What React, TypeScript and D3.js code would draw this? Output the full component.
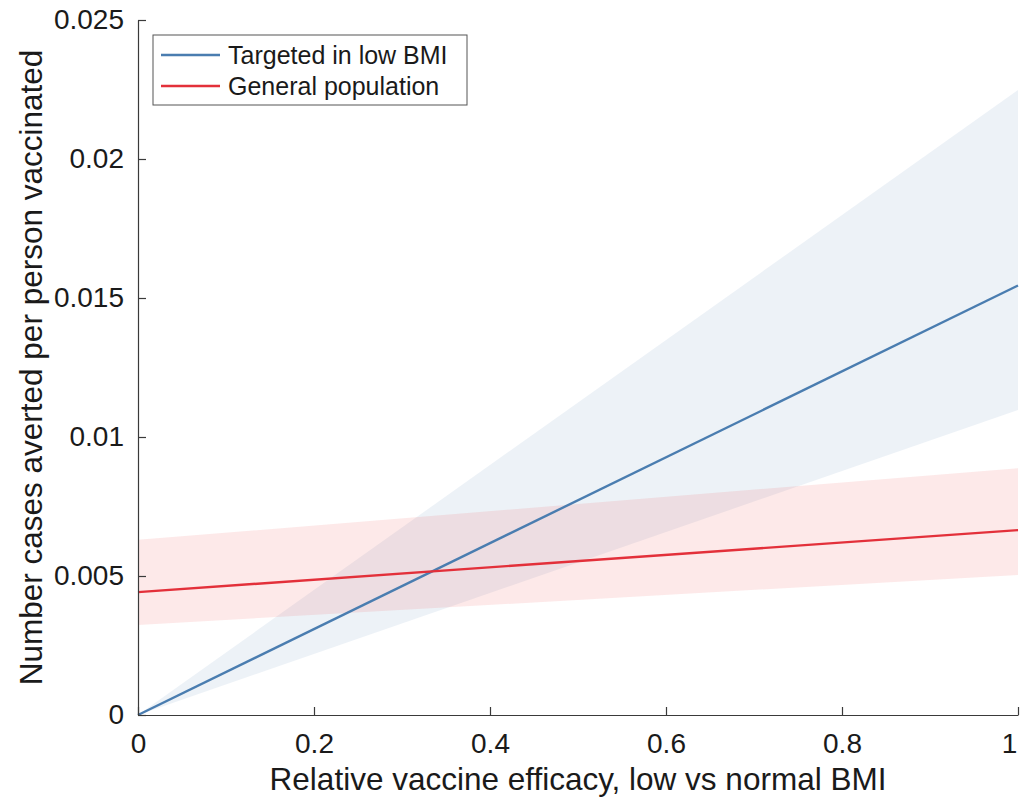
import React, { useEffect, useRef } from 'react';
import * as d3 from 'd3';

const W = 1023;
const H = 799;
const MARGIN = { top: 20, left: 138 };
const PLOT_RIGHT = 1018;
const PLOT_BOTTOM = 715;

// relative efficacy (x) endpoints
const efficacy = [0, 1];
// targeted in low BMI
const targetedMid = [0, 0.01545];
const targetedLo = [0, 0.01097];
const targetedHi = [0, 0.02248];
// general population
const generalMid = [0.00442, 0.00665];
const generalLo = [0.00324, 0.00504];
const generalHi = [0.0063, 0.00888];

const xTicks = [0, 0.2, 0.4, 0.6, 0.8, 1];
const yTicks = [0, 0.005, 0.01, 0.015, 0.02, 0.025];

const series = [
  { name: 'Targeted in low BMI', mid: targetedMid, lo: targetedLo, hi: targetedHi, color: '#4a7db0', fill: '#4a7db0', fillOpacity: 0.1 },
  { name: 'General population', mid: generalMid, lo: generalLo, hi: generalHi, color: '#e3303a', fill: '#f0464e', fillOpacity: 0.12 },
];

export default function App() {
  const svgRef = useRef<SVGSVGElement | null>(null);

  useEffect(() => {
    const svg = d3.select(svgRef.current);
    svg.selectAll('*').remove();

    const pw = PLOT_RIGHT - MARGIN.left;
    const ph = PLOT_BOTTOM - MARGIN.top;

    const x = d3.scaleLinear().domain([0, 1]).range([0, pw]);
    const y = d3.scaleLinear().domain([0, 0.025]).range([ph, 0]);

    const g = svg.append('g').attr('transform', `translate(${MARGIN.left},${MARGIN.top})`);
    const font = 'Liberation Sans, Arial, Helvetica, sans-serif';

    // bands
    series.forEach((s) => {
      const area = d3.area<number>()
        .x((_, i) => x(efficacy[i]))
        .y0((_, i) => y(s.lo[i]))
        .y1((_, i) => y(s.hi[i]));
      g.append('path')
        .datum(efficacy)
        .attr('d', area)
        .attr('fill', s.fill)
        .attr('fill-opacity', s.fillOpacity)
        .attr('stroke', 'none');
    });

    // lines
    series.forEach((s) => {
      const line = d3.line<number>()
        .x((_, i) => x(efficacy[i]))
        .y((_, i) => y(s.mid[i]));
      g.append('path')
        .datum(efficacy)
        .attr('d', line)
        .attr('fill', 'none')
        .attr('stroke', s.color)
        .attr('stroke-width', 2.4);
    });

    // axes
    const axisColor = '#3a3a3a';
    const xAxis = g.append('g')
      .attr('transform', `translate(0,${ph})`)
      .call(d3.axisBottom(x).tickValues(xTicks).tickFormat(d3.format('~g')).tickSizeInner(-8).tickSizeOuter(0).tickPadding(18));
    xAxis.select('.domain').attr('stroke', axisColor).attr('stroke-width', 1.2);
    xAxis.selectAll('line').attr('stroke', axisColor).attr('stroke-width', 1.2);
    xAxis.selectAll('text').attr('fill', '#1a1a1a').attr('font-size', '28px').attr('font-family', font);
    xAxis.selectAll<SVGTextElement, number>('text').filter((d) => d === 1).attr('dx', -9);

    const yAxis = g.append('g')
      .call(d3.axisLeft(y).tickValues(yTicks).tickFormat(d3.format('~g')).tickSizeInner(-8).tickSizeOuter(0).tickPadding(14));
    yAxis.select('.domain').attr('stroke', axisColor).attr('stroke-width', 1.2);
    yAxis.selectAll('line').attr('stroke', axisColor).attr('stroke-width', 1.2);
    yAxis.selectAll('text').attr('fill', '#1a1a1a').attr('font-size', '28px').attr('font-family', font);

    // axis labels
    g.append('text')
      .attr('x', pw / 2).attr('y', ph + 75)
      .attr('text-anchor', 'middle')
      .attr('fill', '#1a1a1a').attr('font-size', '31.5px').attr('font-family', font)
      .text('Relative vaccine efficacy, low vs normal BMI');

    g.append('text')
      .attr('transform', 'rotate(-90)')
      .attr('x', -ph / 2).attr('y', -96)
      .attr('text-anchor', 'middle')
      .attr('fill', '#1a1a1a').attr('font-size', '31.5px').attr('font-family', font)
      .text('Number cases averted per person vaccinated');

    // legend
    const lg = g.append('g').attr('transform', `translate(${153 - MARGIN.left},${35 - MARGIN.top})`);
    lg.append('rect')
      .attr('width', 314).attr('height', 70)
      .attr('fill', '#fff').attr('stroke', '#555').attr('stroke-width', 1);
    series.forEach((s, i) => {
      const cy = 20 + i * 31;
      lg.append('line')
        .attr('x1', 8).attr('x2', 67).attr('y1', cy).attr('y2', cy)
        .attr('stroke', s.color).attr('stroke-width', 2.4);
      lg.append('text')
        .attr('x', 75).attr('y', cy).attr('dy', '0.35em')
        .attr('fill', '#1a1a1a').attr('font-size', '25px').attr('font-family', font)
        .text(s.name);
    });
  }, []);

  return (
    <svg
      ref={svgRef}
      width={W}
      height={H}
      style={{ position: 'absolute', left: 0, top: 0, background: '#fff' }}
    />
  );
}
